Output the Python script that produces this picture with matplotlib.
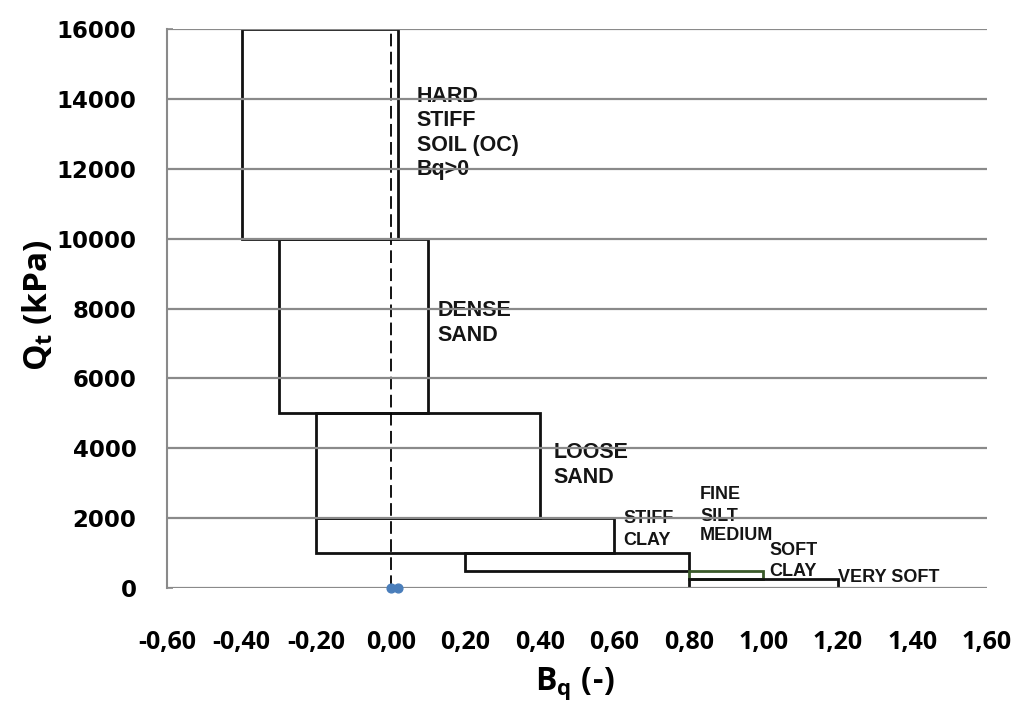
import matplotlib
matplotlib.use("Agg")
import matplotlib.pyplot as plt
from matplotlib import font_manager
from matplotlib.patches import Rectangle
from matplotlib.ticker import FuncFormatter, MultipleLocator

# Soil behaviour zones in the Bq - Qt plane (rectangle bounds)
zone_names = ["hard_stiff_soil", "dense_sand", "loose_sand", "stiff_clay",
              "medium_clay", "soft_clay", "very_soft_clay"]
zone_bq_min = [-0.40, -0.30, -0.20, -0.20, 0.20, 0.80, 0.80]
zone_bq_max = [0.02, 0.10, 0.40, 0.60, 0.80, 1.00, 1.20]
zone_qt_min = [10000, 5000, 2000, 1000, 500, 250, 0]
zone_qt_max = [16000, 10000, 5000, 2000, 1000, 500, 250]

# Measured points
point_bq = [0.00, 0.02]
point_qt = [0, 0]

# Axis ranges / ticks
x_range = (-0.60, 1.60)
x_step = 0.20
y_range = (0, 16000)
y_step = 2000


def pick_font(candidates):
    for name in candidates:
        try:
            font_manager.findfont(font_manager.FontProperties(family=name),
                                  fallback_to_default=False)
            return name
        except Exception:
            continue
    return "DejaVu Sans"


narrow = pick_font(["Liberation Sans Narrow", "Open Sans", "Liberation Sans"])
arial = pick_font(["Liberation Sans", "Arial", "DejaVu Sans"])

fig = plt.figure(figsize=(10.17, 7.02), dpi=100)
W, H = 1017, 702
ax = fig.add_axes([167 / W, 1 - 588 / H, (987 - 167) / W, (588 - 29) / H])

ax.set_xlim(*x_range)
ax.set_ylim(*y_range)

# zone rectangles
edge_colors = ["#111111"] * 5 + ["#3a5a2a", "#111111"]
for x0, x1, y0, y1, ec in zip(zone_bq_min, zone_bq_max, zone_qt_min, zone_qt_max, edge_colors):
    ax.add_patch(Rectangle((x0, y0), x1 - x0, y1 - y0, fill=False,
                           edgecolor=ec, linewidth=2.0, zorder=2))

# Bq = 0 reference line
ax.plot([0, 0], list(y_range), color="black", linewidth=1.3,
        linestyle=(0, (7, 3)), zorder=2.5)

# horizontal gridlines sit on top of the zones
for yv in range(y_range[0], y_range[1] + 1, y_step):
    ax.axhline(yv, color="#8a8a8a", linewidth=1.6, zorder=5)

ax.scatter(point_bq, point_qt, s=40, color="#4a7ebb", zorder=6, clip_on=False)

# zone annotations
big = dict(fontsize=15.5, fontweight="bold", family=arial, color="#151515",
           ha="left", va="center", zorder=4)
small = dict(big, fontsize=13)
ax.text(0.07, 14057, "HARD", **big)
ax.text(0.07, 13371, "STIFF", **big)
ax.text(0.07, 12657, "SOIL (OC)", **big)
ax.text(0.07, 11971, "Bq>0", **big)
ax.text(0.126, 7943, "DENSE", **big)
ax.text(0.126, 7229, "SAND", **big)
ax.text(0.438, 3886, "LOOSE", **big)
ax.text(0.438, 3171, "SAND", **big)
ax.text(0.624, 2000, "STIFF", **small)
ax.text(0.624, 1371, "CLAY", **small)
ax.text(0.83, 2686, "FINE", **small)
ax.text(0.83, 2057, "SILT", **small)
ax.text(0.83, 1514, "MEDIUM", **small)
ax.text(1.016, 1086, "SOFT", **small)
ax.text(1.016, 486, "CLAY", **small)
ax.text(1.199, 314, "VERY SOFT", **small)

# axes styling
for side in ["top", "right", "bottom"]:
    ax.spines[side].set_visible(False)
ax.spines["left"].set_color("#8a8a8a")
ax.spines["left"].set_linewidth(1.5)

ax.xaxis.set_major_locator(MultipleLocator(x_step))
ax.yaxis.set_major_locator(MultipleLocator(y_step))
ax.xaxis.set_major_formatter(FuncFormatter(lambda v, p: f"{v:.2f}".replace(".", ",").replace("-0,00", "0,00")))
ax.yaxis.set_major_formatter(FuncFormatter(lambda v, p: f"{int(round(v))}"))

ax.tick_params(axis="x", length=0, pad=30)
ax.tick_params(axis="y", direction="in", length=4, color="#8a8a8a", width=1.2, pad=22)
for lab in ax.get_xticklabels():
    lab.set_fontfamily(narrow)
    lab.set_fontweight("bold")
    lab.set_fontsize(18)
for lab in ax.get_yticklabels():
    lab.set_fontfamily("DejaVu Sans")
    lab.set_fontweight("bold")
    lab.set_fontsize(16.5)

plt.rcParams["mathtext.fontset"] = "custom"
plt.rcParams["mathtext.bf"] = f"{narrow}:bold"
plt.rcParams["mathtext.rm"] = f"{narrow}:bold"

fig.text(575 / W, 1 - 684 / H, r"B$_\mathbf{q}$ (-)", ha="center", va="center",
         fontsize=23, fontweight="bold", family=narrow)
fig.text(38 / W, 1 - 305 / H, r"Q$_\mathbf{t}$ (kPa)", ha="center", va="center",
         rotation=90, fontsize=24, fontweight="bold", family=narrow)

fig.savefig("out.png", dpi=100)
